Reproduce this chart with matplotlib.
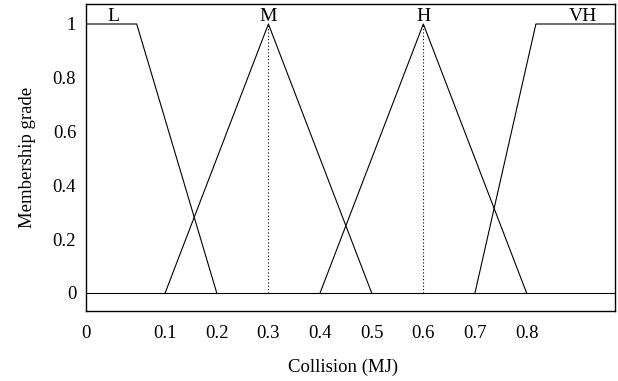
import matplotlib.pyplot as plt

plt.rcParams['font.family'] = ['Liberation Serif', 'DejaVu Serif']

# membership functions (x in MJ, y = grade)
L_x = [-0.0534, 0.045, 0.2]
L_y = [1, 1, 0]
M_x = [0.1, 0.3, 0.5]
M_y = [0, 1, 0]
H_x = [0.4, 0.6, 0.8]
H_y = [0, 1, 0]
VH_x = [0.7, 0.818, 0.971]
VH_y = [0, 1, 1]
peaks = [0.3, 0.6]

names = ['L', 'M', 'H', 'VH']
name_x = [0.0, 0.3, 0.6, 0.909]

xticks = [-0.0534, 0.1, 0.2, 0.3, 0.4, 0.5, 0.6, 0.7, 0.8]
xtick_labels = ['0', '0.1', '0.2', '0.3', '0.4', '0.5', '0.6', '0.7', '0.8']
yticks = [0, 0.2, 0.4, 0.6, 0.8, 1]
ytick_labels = ['0', '0.2', '0.4', '0.6', '0.8', '1']

fig = plt.figure(figsize=(6.18, 3.81), dpi=100)
ax = fig.add_axes([0.139, 0.1837, 0.856, 0.8045])

lw = 0.8
ax.axhline(0, color='black', lw=lw)
for xs, ys in [(L_x, L_y), (M_x, M_y), (H_x, H_y), (VH_x, VH_y)]:
    ax.plot(xs, ys, color='black', lw=lw)
for p in peaks:
    ax.plot([p, p], [0, 1], color='black', lw=0.8, ls=(0, (1, 2)))
for nm, nx in zip(names, name_x):
    ax.text(nx, 0.998, nm, ha='center', va='bottom', fontsize=14)

ax.set_xlim(-0.0534, 0.971)
ax.set_ylim(-0.067, 1.0725)
ax.set_xticks(xticks)
ax.set_xticklabels(xtick_labels)
ax.set_yticks(yticks)
ax.set_yticklabels(ytick_labels)
ax.tick_params(axis='x', length=0, pad=10, labelsize=13.5)
ax.tick_params(axis='y', length=0, pad=7, labelsize=13.5)
for s in ax.spines.values():
    s.set_linewidth(1.0)

ax.set_xlabel('Collision (MJ)', fontsize=13.5, labelpad=12)
ax.xaxis.label.set_x(0.487)
ax.set_ylabel('Membership grade', fontsize=13.5, labelpad=12)

fig.savefig('out.png', dpi=100)
